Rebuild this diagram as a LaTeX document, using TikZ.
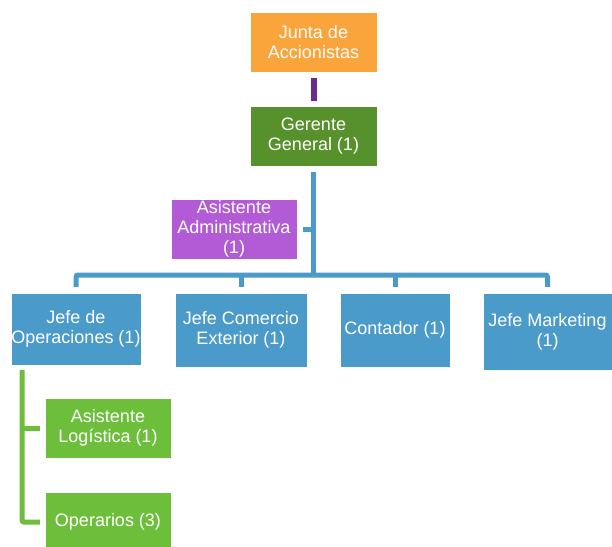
\documentclass[tikz,border=0pt]{standalone}
\usepackage{fontspec}
\setmainfont{Liberation Sans}
\definecolor{orangebox}{HTML}{FAA53C}
\definecolor{darkgreen}{HTML}{57912B}
\definecolor{purplebox}{HTML}{B35BD6}
\definecolor{purpleline}{HTML}{6B2C8B}
\definecolor{bluebox}{HTML}{4A9BCA}
\definecolor{lightgreen}{HTML}{6DBF3B}
\tikzset{
  box/.style={rectangle, inner sep=0pt, text=white, align=center,
    font=\fontsize{18}{20}\selectfont, draw=white, line width=0.4pt},
  conn/.style={line width=5pt, rounded corners=2pt},
}
\begin{document}
\begin{tikzpicture}[x=1pt,y=-1pt]
\useasboundingbox (0,0) rectangle (612,546);
\fill[white] (0,0) rectangle (612,546);
\node[box, fill=orangebox, minimum width=127pt, minimum height=60pt] (junta) at (313.5,42) {Junta de\\Accionistas};
\node[box, fill=darkgreen, minimum width=127pt, minimum height=60pt] (gerente) at (313.5,136) {Gerente\\General (1)};
\node[box, fill=purplebox, minimum width=126pt, minimum height=60pt] (asis) at (234,229) {Asistente\\Administrativa\\(1)};
\node[box, fill=bluebox, minimum width=130pt, minimum height=72pt] (ops) at (76,329) {Jefe de\\Operaciones (1)};
\node[box, fill=bluebox, minimum width=132pt, minimum height=74pt] (com) at (241,330) {Jefe Comercio\\Exterior (1)};
\node[box, fill=bluebox, minimum width=110pt, minimum height=74pt] (cont) at (395,330) {Contador (1)};
\node[box, fill=bluebox, minimum width=129pt, minimum height=77pt] (mkt) at (547.5,331.5) {Jefe Marketing\\(1)};
\node[box, fill=lightgreen, minimum width=126pt, minimum height=60pt] (log) at (108,428) {Asistente\\Log\'istica (1)};
\node[box, fill=lightgreen, minimum width=126pt, minimum height=60pt] (oper) at (108,522) {Operarios (3)};
\coordinate (bar) at (314.5,275);
\coordinate (gtop) at (22,370);
% purple connector
\draw[purpleline, line width=6pt] ([yshift=-6pt]junta.south) -- ([yshift=5pt]gerente.north);
% blue connectors
\draw[bluebox, conn] ([yshift=-6pt]gerente.south) -- (gerente.south |- bar);
\draw[bluebox, conn] ([yshift=6pt]ops.north) |- (bar) -| ([yshift=6pt]mkt.north);
\draw[bluebox, conn] ([yshift=6pt]com.north) -- (com.north |- bar);
\draw[bluebox, conn] ([yshift=6pt]cont.north) -- (cont.north |- bar);
\draw[bluebox, conn] ([xshift=6pt]asis.east) -- (asis.east -| gerente.south);
% green connectors
\draw[lightgreen, conn] (gtop) |- ([xshift=-5pt]oper.west);
\draw[lightgreen, conn] (gtop |- log.west) -- ([xshift=-5pt]log.west);
\end{tikzpicture}
\end{document}
